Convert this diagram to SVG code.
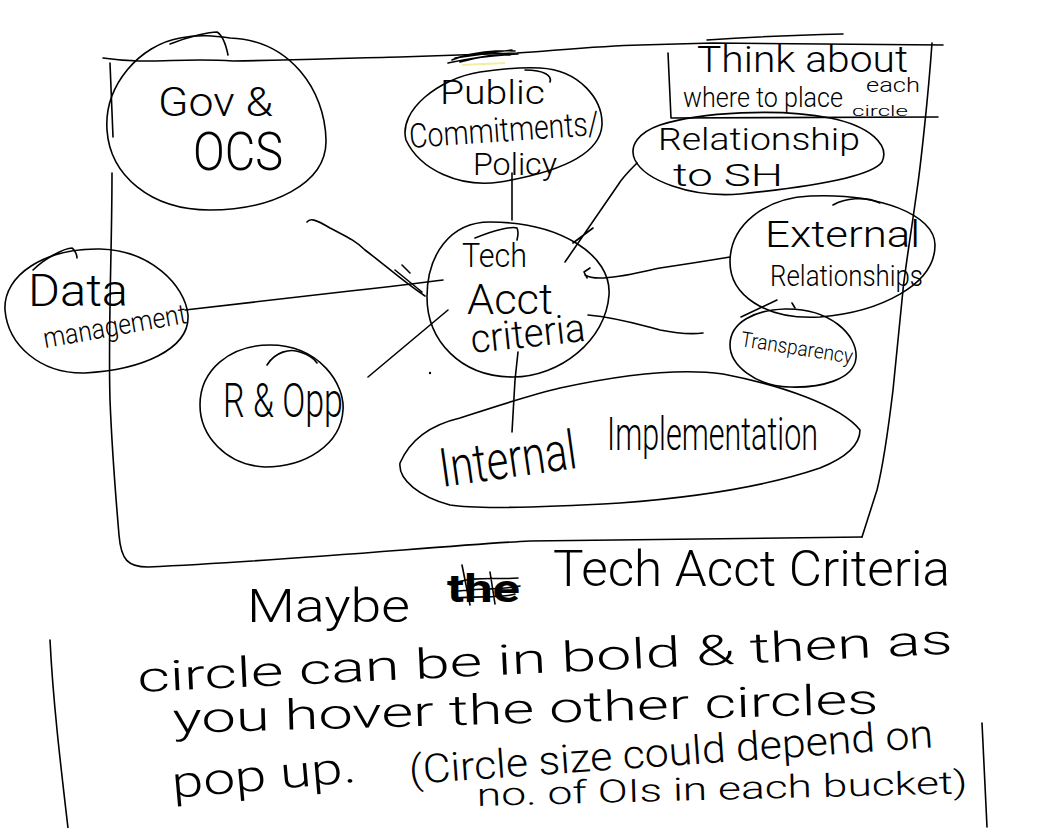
<svg xmlns="http://www.w3.org/2000/svg" width="1039" height="828" viewBox="0 0 1039 828">
<style>
.s{fill:none;stroke:#000;stroke-width:1.6;stroke-linecap:round;stroke-linejoin:round}
.t{font-family:Roboto,"Liberation Sans",sans-serif;font-weight:300;fill:#000}
</style>
<rect width="1039" height="828" fill="#fff"/>
<g id="frame">
<path class="s" d="M103,58 C150,65 180,57 233,61 C300,60 350,58 400,57 L517,53 C560,50 600,46 640,45 L713,43 L943,45"/>
<path class="s" d="M452,60 C470,52 500,50 515,51 M448,63 C470,58 500,55 518,54 M455,58 L512,50 M460,62 C480,56 500,54 510,55"/>
<path d="M462,65 L505,63" stroke="#f3eea0" stroke-width="2" fill="none"/>
<path class="s" d="M110,63 L113,137"/>
<path class="s" d="M112,173 C112,250 108,330 110,400 C112,450 116,500 119,535 C121,560 128,567 148,567 C300,560 450,545 530,541 L862,537"/>
<path class="s" d="M932,43 C928,100 920,170 917,190 C910,240 905,270 903,290 C898,340 895,370 893,390 C887,440 882,470 877,490 L862,537"/>
</g>
<g id="note-box">
<path class="s" d="M668,53 L671,118 M672,118 L938,117 M707,40 C750,37 800,35 843,34"/>
<text class="t" x="697" y="72" font-size="36" textLength="211" lengthAdjust="spacingAndGlyphs">Think about</text>
<text class="t" x="683" y="107" font-size="28" textLength="160" lengthAdjust="spacingAndGlyphs">where to place</text>
<text class="t" x="866" y="92" font-size="20" textLength="54" lengthAdjust="spacingAndGlyphs">each</text>
<text class="t" x="852" y="116" font-size="15" textLength="56" lengthAdjust="spacingAndGlyphs">circle</text>
</g>
<g id="connectors">
<path class="s" d="M512,173 L512,220" stroke-width="2.4"/>
<path class="s" d="M637,163 C630,170 622,178 618,185 L565,262 M573,243 L593,228"/>
<path class="s" d="M730,257 C700,262 680,265 660,268 C640,272 620,278 600,278 C592,278 588,277 585,275 M590,268 L584,272 L587,278"/>
<path class="s" d="M588,315 C620,318 640,325 660,330 C680,334 695,334 703,333"/>
<path class="s" d="M518,352 L515,380 L512,432"/>
<path class="s" d="M368,377 L448,310"/>
<path class="s" d="M185,310 C250,303 300,297 350,291 C390,287 420,283 443,280"/>
<path class="s" d="M307,222 C310,218 315,219 330,228 C345,236 355,240 365,250 C385,265 405,283 425,296 M395,270 L422,292 M402,265 L410,273"/>
<path class="s" d="M777,300 L741,317 M792,303 L795,308"/>
<circle cx="430" cy="373" r="1.2" fill="#000"/>
</g>
<g id="gov-ocs">
<path class="s" d="M230,38 C290,40 325,90 326,140 C327,185 270,210 210,210 C150,210 110,175 107,130 C104,85 140,45 180,38 C200,34 215,36 230,38 Z"/>
<path class="s" d="M170,44 C190,36 210,32 217,32 C222,35 226,45 228,55"/>
<text class="t" x="158" y="116" font-size="40" textLength="115" lengthAdjust="spacingAndGlyphs">Gov &amp;</text>
<text class="t" x="193" y="170" font-size="54" textLength="90" lengthAdjust="spacingAndGlyphs">OCS</text>
</g>
<g id="public-commitments">
<path class="s" d="M540,68 C580,70 603,100 602,125 C600,155 560,172 500,182 C460,188 420,170 406,140 C398,110 440,78 480,72 C500,69 520,67 540,68 Z"/>
<path class="s" d="M525,70 C545,70 552,76 550,82"/>
<text class="t" x="440" y="104" font-size="34" textLength="105" lengthAdjust="spacingAndGlyphs">Public</text>
<text class="t" x="410" y="148" font-size="34" textLength="190" lengthAdjust="spacingAndGlyphs" transform="rotate(-4 410 148)">Commitments/</text>
<text class="t" x="473" y="175" font-size="32" textLength="84" lengthAdjust="spacingAndGlyphs">Policy</text>
</g>
<g id="relationship-sh">
<path class="s" d="M660,125 C700,112 780,108 830,118 C870,126 890,145 882,162 C870,178 800,188 740,194 C690,198 645,180 635,160 C628,145 640,132 660,125 Z"/>
<text class="t" x="658" y="150" font-size="31" textLength="202" lengthAdjust="spacingAndGlyphs">Relationship</text>
<text class="t" x="673" y="186" font-size="31" textLength="110" lengthAdjust="spacingAndGlyphs">to SH</text>
</g>
<g id="data-management">
<path class="s" d="M100,249 C150,250 185,285 188,315 C190,350 140,370 85,373 C40,374 8,345 5,310 C3,275 45,248 100,249 Z"/>
<path class="s" d="M33,270 C45,258 65,248 72,248 C75,250 77,255 77,258"/>
<text class="t" x="28" y="306" font-size="44" textLength="100" lengthAdjust="spacingAndGlyphs">Data</text>
<text class="t" x="45" y="348" font-size="28" textLength="145" lengthAdjust="spacingAndGlyphs" transform="rotate(-10 45 348)">management</text>
</g>
<g id="tech-acct-criteria">
<path class="s" d="M490,222 C560,222 612,255 609,295 C606,340 560,377 513,377 C460,377 427,340 427,297 C427,255 450,222 490,222 Z"/>
<path class="s" d="M475,238 C495,230 512,226 517,228 C519,232 518,236 517,240"/>
<text class="t" x="462" y="267" font-size="34" textLength="65" lengthAdjust="spacingAndGlyphs">Tech</text>
<text class="t" x="467" y="314" font-size="42" textLength="86" lengthAdjust="spacingAndGlyphs">Acct</text>
<text class="t" x="472" y="353" font-size="40" textLength="115" lengthAdjust="spacingAndGlyphs" transform="rotate(-6 472 353)">criteria</text>
</g>
<g id="r-opp">
<path class="s" d="M270,345 C320,345 345,385 343,410 C341,445 305,467 265,467 C225,465 200,435 200,405 C200,370 230,345 270,345 Z"/>
<path class="s" d="M267,365 C275,352 290,348 300,352 C310,355 315,360 317,363"/>
<text class="t" x="223" y="417" font-size="48" textLength="120" lengthAdjust="spacingAndGlyphs">R &amp; Opp</text>
</g>
<g id="external-relationships">
<path class="s" d="M810,196 C880,193 935,215 935,245 C935,285 880,312 820,317 C765,320 730,295 730,262 C730,225 765,198 810,196 Z"/>
<path class="s" d="M833,205 C845,198 865,196 880,203"/>
<text class="t" x="765" y="247" font-size="36" textLength="155" lengthAdjust="spacingAndGlyphs">External</text>
<text class="t" x="770" y="286" font-size="30" textLength="153" lengthAdjust="spacingAndGlyphs">Relationships</text>
</g>
<g id="transparency">
<path class="s" d="M785,309 C830,308 858,335 856,358 C854,380 820,388 790,387 C755,386 730,365 730,345 C730,322 755,310 785,309 Z"/>
<text class="t" x="740" y="346" font-size="21" textLength="113" lengthAdjust="spacingAndGlyphs" transform="rotate(9 740 346)">Transparency</text>
</g>
<g id="internal-implementation">
<path class="s" d="M400,463 C410,440 430,425 460,418 C500,405 530,395 560,388 C620,375 680,368 723,374 C780,385 840,405 860,430 C860,445 845,458 820,468 C770,485 700,497 620,503 C550,507 480,510 450,505 C420,497 398,480 400,463 Z"/>
<text class="t" x="442" y="487" font-size="54" textLength="138" lengthAdjust="spacingAndGlyphs" transform="rotate(-8 442 487)">Internal</text>
<text class="t" x="607" y="450" font-size="46" textLength="211" lengthAdjust="spacingAndGlyphs">Implementation</text>
</g>
<g id="note">
<text class="t" x="247" y="622" font-size="46" textLength="163" lengthAdjust="spacingAndGlyphs">Maybe</text>
<text class="t" x="447" y="602" font-size="38" style="font-weight:700" textLength="73" lengthAdjust="spacingAndGlyphs">the</text>
<path class="s" d="M450,585 C470,575 500,580 518,578 M452,592 C475,588 500,590 520,586 M455,598 C480,596 505,598 515,594 M462,565 L470,605 M490,572 L495,604" stroke-width="2"/>
<text class="t" x="553" y="586" font-size="50" textLength="397" lengthAdjust="spacingAndGlyphs">Tech Acct Criteria</text>
<text class="t" x="138" y="692" font-size="42" textLength="816" lengthAdjust="spacingAndGlyphs" transform="rotate(-2.7 138 692)">circle can be in bold &amp; then as</text>
<text class="t" x="173" y="733" font-size="42" textLength="706" lengthAdjust="spacingAndGlyphs" transform="rotate(-1.6 173 733)">you hover the other circles</text>
<text class="t" x="173" y="798" font-size="44" textLength="185" lengthAdjust="spacingAndGlyphs" transform="rotate(-5 173 798)">pop up.</text>
<text class="t" x="410" y="784" font-size="40" textLength="525" lengthAdjust="spacingAndGlyphs" transform="rotate(-4 410 784)">(Circle size could depend on</text>
<text class="t" x="477" y="806" font-size="32" textLength="491" lengthAdjust="spacingAndGlyphs" transform="rotate(-1.5 477 806)">no. of OIs in each bucket)</text>
<path class="s" d="M50,640 C53,700 60,760 68,828"/>
<path class="s" d="M982,723 L987,827"/>
</g>
</svg>
